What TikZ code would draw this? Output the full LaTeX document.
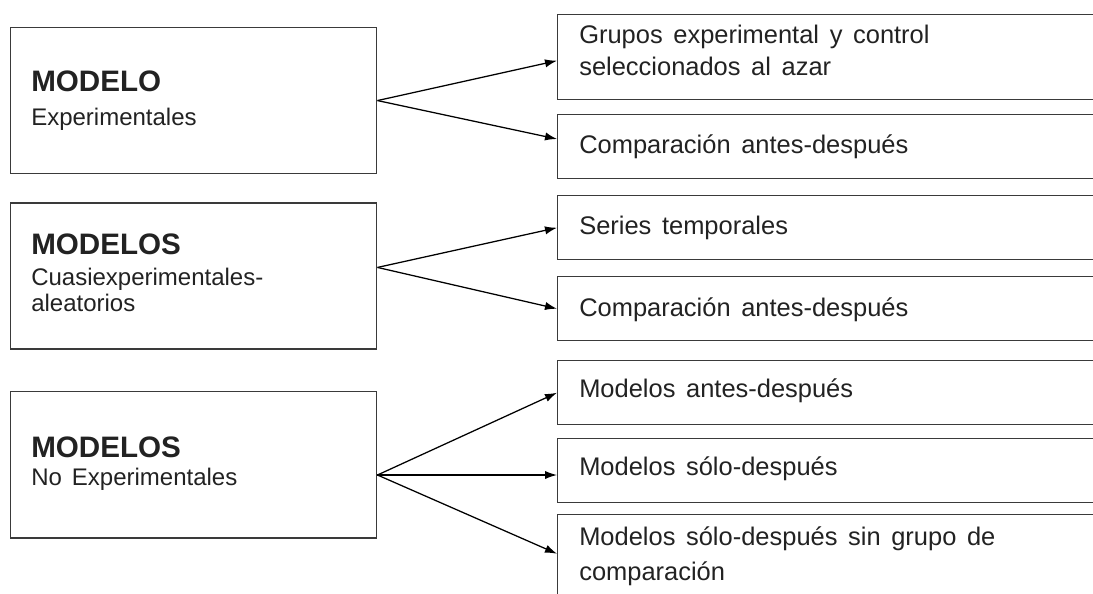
\documentclass[tikz,border=0pt]{standalone}
\usepackage{fontspec}
\setmainfont{Liberation Sans}
\newfontfamily\rfont[WordSpace=1.8]{Liberation Sans}
\newfontfamily\lfont[WordSpace=1.5]{Liberation Sans}
\usetikzlibrary{arrows.meta}
\definecolor{boxline}{HTML}{3A3A3A}
\definecolor{txt}{HTML}{222222}
\tikzset{
  lbox/.style={draw=boxline, line width=1.1pt, rectangle, inner sep=0pt, minimum width=274.5pt, minimum height=109.7pt, anchor=north west},
  rbox/.style={draw=boxline, line width=1.1pt, rectangle, inner sep=0pt, minimum width=414.75pt, anchor=north west},
  ttl/.style={anchor=base west, inner sep=0pt, text=txt, font=\fontsize{22.2pt}{26pt}\selectfont\bfseries},
  sub/.style={anchor=base west, inner sep=0pt, text=txt, font=\lfont\fontsize{18pt}{22pt}\selectfont},
  rtxt/.style={anchor=base west, inner sep=0pt, text=txt, font=\rfont\fontsize{19.1pt}{24pt}\selectfont},
  conn/.style={draw=black, line width=0.95pt, -{Latex[length=9pt,width=6.2pt]}}
}
\begin{document}
\begin{tikzpicture}[x=0.75pt,y=-0.75pt]
\path[use as bounding box] (0,0) rectangle (1093,593);
\clip (0,0) rectangle (1093,593);
% left boxes
\node[lbox] (L1) at (10,26.7) {};
\node[lbox, minimum height=109.5pt] (L2) at (10,202.3) {};
\node[lbox] (L3) at (10,391) {};
\node[ttl] (t1) at (31,91.7) {MODELO};
\node[sub] (s1) at (31,125) {Experimentales};
\node[ttl] (t2) at (31,254) {MODELOS};
\node[sub] (s2a) at (31,285) {Cuasiexperimentales-};
\node[sub] (s2b) at (31,311) {aleatorios};
\node[ttl] (t3) at (31,457) {MODELOS};
\node[sub] (s3) at (31,485) {No Experimentales};
% right boxes
\node[rbox, minimum height=63.75pt] (R1) at (557,14) {};
\node[rbox, minimum height=48pt] (R2) at (557,114) {};
\node[rbox, minimum height=48pt] (R3) at (557,195) {};
\node[rbox, minimum height=48pt] (R4) at (557,276) {};
\node[rbox, minimum height=48pt] (R5) at (557,360) {};
\node[rbox, minimum height=48pt] (R6) at (557,438) {};
\node[rbox, minimum height=79.5pt] (R7) at (557,514) {};
\node[rtxt] (r1a) at (579,43.5) {Grupos experimental y control};
\node[rtxt] (r1b) at (579,75.5) {seleccionados al azar};
\node[rtxt] (r2) at (579,153.5) {Comparación antes-después};
\node[rtxt] (r3) at (579,234.5) {Series temporales};
\node[rtxt] (r4) at (579,316) {Comparación antes-después};
\node[rtxt] (r5) at (579,397.5) {Modelos antes-después};
\node[rtxt] (r6) at (579,475) {Modelos sólo-después};
\node[rtxt] (r7a) at (579,545) {Modelos sólo-después sin grupo de};
\node[rtxt] (r7b) at (579,580) {comparación};
% connectors
\coordinate (o1) at (L1.east);
\coordinate (o2) at ([yshift=6.45pt]L2.east);
\coordinate (o3) at ([yshift=-7.6pt]L3.east);
\draw[conn] (o1) -- ([yshift=-2.6pt]R1.west);
\draw[conn] (o1) -- ([yshift=5.8pt]R2.west);
\draw[conn] (o2) -- (R3.west);
\draw[conn] (o2) -- (R4.west);
\draw[conn] (o3) -- (R5.west);
\draw[conn] (o3) -- (o3 -| R6.west);
\draw[conn] (o3) -- ([yshift=10.5pt]R7.west);
\end{tikzpicture}
\end{document}
